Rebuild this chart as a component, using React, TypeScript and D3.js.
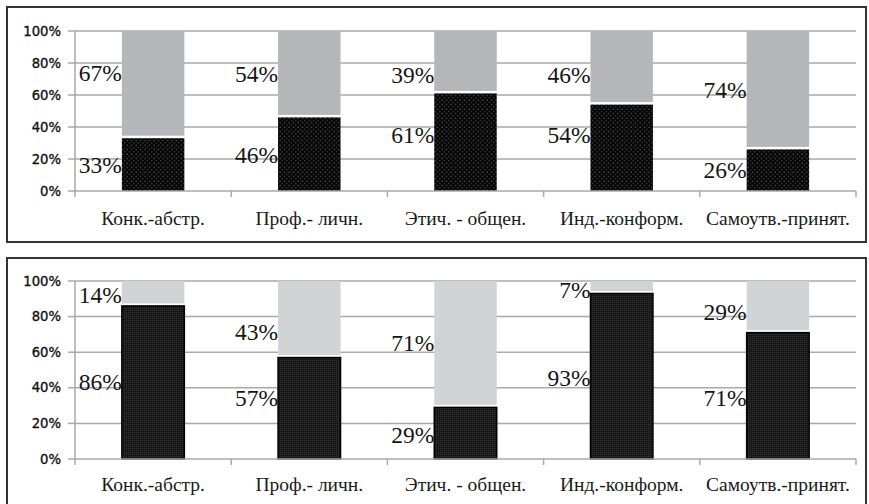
import React from "react";
import * as d3 from "d3";

const categories = ["Конк.-абстр.", "Проф.- личн.", "Этич. - общен.", "Инд.-конформ.", "Самоутв.-принят."];
const tickValues = [0, 20, 40, 60, 80, 100];

const topDark = [33, 46, 61, 54, 26];
const topLight = [67, 54, 39, 46, 74];
const topDarkLabelAt = [16, 22.5, 35, 35, 13];
const topLightLabelAt = [74, 73, 72.5, 72.5, 63];

const bottomDark = [86, 57, 29, 93, 71];
const bottomLight = [14, 43, 71, 7, 29];
const bottomDarkLabelAt = [43, 34, 13.5, 45.5, 34];
const bottomLightLabelAt = [92, 71.5, 65, 95, 82.5];

const W = 869;
const H = 504;

type PanelProps = {
  boxTop: number;
  boxBottom: number;
  plotTop: number;
  plotBottom: number;
  dark: number[];
  light: number[];
  darkLabelAt: number[];
  lightLabelAt: number[];
  darkFill: string;
  darkStroke: string;
  lightFill: string;
  catY: number;
  showBottomBorder: boolean;
};

function Panel(p: PanelProps) {
  const x = d3.scaleBand<string>().domain(categories).range([75, 856]).paddingInner(0.6).paddingOuter(0.3);
  const band = d3.scaleBand<string>().domain(categories).range([75, 856]);
  const y = d3.scaleLinear().domain([0, 100]).range([p.plotBottom, p.plotTop]);
  const gap = 2.5;
  return (
    <g>
      <path
        d={
          p.showBottomBorder
            ? `M7,${p.boxTop}H866V${p.boxBottom}H7Z`
            : `M7,${p.boxBottom}V${p.boxTop}H866V${p.boxBottom}`
        }
        fill="white"
        stroke="#333"
        strokeWidth={2}
      />
      {tickValues.filter((t) => t > 0).map((t) => (
        <line key={t} x1={75} x2={856} y1={y(t)} y2={y(t)} stroke="#a9a9a9" strokeWidth={1.5} />
      ))}
      {tickValues.map((t) => (
        <g key={"t" + t}>
          <line x1={68} x2={75} y1={y(t)} y2={y(t)} stroke="#a9a9a9" strokeWidth={1.5} />
          <text
            x={61}
            y={y(t)}
            textAnchor="end"
            dominantBaseline="central"
            fontFamily="DejaVu Sans"
            fontSize={13.2}
            fill="#111"
            stroke="#111"
            strokeWidth={0.35}
          >
            {t}%
          </text>
        </g>
      ))}
      {categories.map((c, i) => {
        const bx = x(c)!;
        const bw = x.bandwidth();
        const darkTop = y(p.dark[i]);
        return (
          <g key={c}>
            <rect
              x={bx}
              y={y(100)}
              width={bw}
              height={Math.max(0, darkTop - gap - y(100))}
              fill={p.lightFill}
            />
            <rect
              x={bx}
              y={darkTop}
              width={bw}
              height={y(0) - darkTop}
              fill={p.darkFill}
              stroke={p.darkStroke}
              strokeWidth={p.darkStroke === "none" ? 0 : 1.5}
            />
            <text
              x={bx}
              y={y(p.lightLabelAt[i])}
              textAnchor="end"
              dominantBaseline="central"
              fontFamily="Liberation Serif"
              fontSize={23.5}
              fill="#151515"
            >
              {p.light[i]}%
            </text>
            <text
              x={bx}
              y={y(p.darkLabelAt[i])}
              textAnchor="end"
              dominantBaseline="central"
              fontFamily="Liberation Serif"
              fontSize={23.5}
              fill="#151515"
            >
              {p.dark[i]}%
            </text>
          </g>
        );
      })}
      <line x1={75} x2={75} y1={y(100)} y2={y(0) + 6} stroke="#a9a9a9" strokeWidth={1.5} />
      <line x1={75} x2={856} y1={y(0)} y2={y(0)} stroke="#a9a9a9" strokeWidth={1.5} />
      {categories.map((c) => (
        <line
          key={"ct" + c}
          x1={band(c)! + band.bandwidth()}
          x2={band(c)! + band.bandwidth()}
          y1={y(0)}
          y2={y(0) + 6}
          stroke="#a9a9a9"
          strokeWidth={1.5}
        />
      ))}
      {categories.map((c) => (
        <text
          key={"cl" + c}
          x={band(c)! + band.bandwidth() / 2}
          y={p.catY}
          textAnchor="middle"
          dominantBaseline="central"
          fontFamily="Liberation Serif"
          fontSize={19.5}
          fill="#1a1a1a"
        >
          {c}
        </text>
      ))}
    </g>
  );
}

export default function App() {
  return (
    <svg
      width={W}
      height={H}
      style={{ position: "absolute", left: 0, top: 0, background: "white" }}
    >
      <defs>
        <pattern id="dots" width="4.5" height="4.5" patternUnits="userSpaceOnUse">
          <rect width="4.5" height="4.5" fill="#050505" />
          <circle cx="1.1" cy="1.1" r="0.65" fill="#7a7a7a" />
          <circle cx="3.35" cy="3.35" r="0.65" fill="#5a5a5a" />
        </pattern>
        <pattern id="fine" width="2" height="2" patternUnits="userSpaceOnUse">
          <rect width="2" height="2" fill="#1e1e1e" />
          <rect width="1" height="1" fill="#2e2e2e" />
          <rect x="1" y="1" width="1" height="1" fill="#101010" />
        </pattern>
      </defs>
      <rect width={W} height={H} fill="white" />
      <Panel
        boxTop={7}
        boxBottom={242}
        plotTop={31}
        plotBottom={191}
        dark={topDark}
        light={topLight}
        darkLabelAt={topDarkLabelAt}
        lightLabelAt={topLightLabelAt}
        darkFill="url(#dots)"
        darkStroke="none"
        lightFill="#b5b6b8"
        catY={218}
        showBottomBorder={true}
      />
      <Panel
        boxTop={258}
        boxBottom={510}
        plotTop={281}
        plotBottom={459}
        dark={bottomDark}
        light={bottomLight}
        darkLabelAt={bottomDarkLabelAt}
        lightLabelAt={bottomLightLabelAt}
        darkFill="url(#fine)"
        darkStroke="#000"
        lightFill="#d2d3d5"
        catY={484}
        showBottomBorder={false}
      />
    </svg>
  );
}
